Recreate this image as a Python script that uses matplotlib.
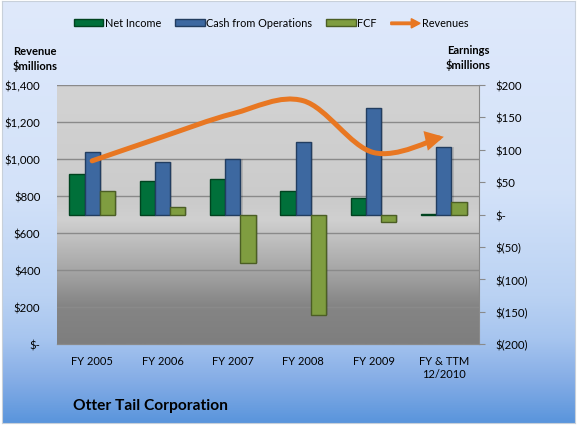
import matplotlib.pyplot as plt
import matplotlib.patches as mpatches
import numpy as np
from matplotlib.colors import LinearSegmentedColormap
from matplotlib.path import Path
from matplotlib.legend_handler import HandlerPatch

plt.rcParams['font.family'] = ['Lato', 'DejaVu Sans']

# data ($ millions)
years = ['FY 2005', 'FY 2006', 'FY 2007', 'FY 2008', 'FY 2009', 'FY & TTM\n12/2010']
net_income = [62, 52, 55, 36, 26, 0.5]
cash_ops = [96, 81, 85, 112, 164, 105]
fcf = [37, 12, -75, -155, -12, 19]
revenues = [990, 1120, 1245, 1315, 1035, 1120]

left_ticks = [0, 200, 400, 600, 800, 1000, 1200, 1400]
left_labels = ['$-', '$200', '$400', '$600', '$800', '$1,000', '$1,200', '$1,400']
right_ticks = [-200, -150, -100, -50, 0, 50, 100, 150, 200]
right_labels = ['$(200)', '$(150)', '$(100)', '$(50)', '$-', '$50', '$100', '$150', '$200']

fig = plt.figure(figsize=(5.77, 4.27), dpi=100)
fig.patch.set_facecolor('white')

# blue gradient background
bg = fig.add_axes([2/577, 3/427, 573/577, 422/427], zorder=-10)
bg_cmap = LinearSegmentedColormap.from_list('bg', [(0, '#dfe9fb'), (0.45, '#d3e2f9'), (0.7, '#bad2f3'),
                                                   (0.8, '#a7c5ef'), (0.9, '#85ade6'), (1, '#5a95dc')])
bg.imshow(np.linspace(0, 1, 256).reshape(-1, 1), cmap=bg_cmap, aspect='auto', extent=[0, 1, 0, 1])
bg.set_xticks([])
bg.set_yticks([])
for s in bg.spines.values():
    s.set_color('#c8d0da')
    s.set_linewidth(0.8)

ax = fig.add_axes([57/577, 1 - 345/427, 422/577, 259/427])
ax2 = ax.twinx()

x = np.arange(len(years))
ax.set_xlim(-0.5, len(years) - 0.5)
ax.set_ylim(0, 1400)
ax2.set_ylim(-200, 200)

# gray plot area gradient
pa_cmap = LinearSegmentedColormap.from_list('pa', [(0, '#d3d3d3'), (0.45, '#cbcbcb'), (0.52, '#d0d0d0'),
                                                   (0.62, '#bababa'), (0.72, '#a5a5a5'), (0.85, '#858585'),
                                                   (1, '#7e7e7e')])
ax.imshow(np.linspace(0, 1, 256).reshape(-1, 1), cmap=pa_cmap, aspect='auto',
          extent=[-0.5, len(years) - 0.5, 0, 1400], zorder=0)

ax.set_yticks(left_ticks)
ax.set_yticklabels(left_labels)
ax.grid(axis='y', color='#8a8a8a', linewidth=1)
ax.set_axisbelow(True)
ax.tick_params(axis='y', length=0, pad=12, labelsize=8.2)
ax.set_xticks(x)
ax.set_xticklabels(years, fontsize=8)
ax.tick_params(axis='x', length=0, pad=8)

ax2.set_yticks(right_ticks)
ax2.set_yticklabels(right_labels)
ax2.tick_params(axis='y', length=4, color='#8a8a8a', pad=8, labelsize=8.2)

for a in (ax, ax2):
    a.spines['top'].set_visible(False)
    a.spines['left'].set_visible(False)
    a.spines['right'].set_visible(False)
    a.spines['bottom'].set_color('#8a8a8a')
ax2.spines['right'].set_visible(True)
ax2.spines['right'].set_color('#8a8a8a')

w = 0.215
bar_specs = [(net_income, -w, '#00703a', '#00431f', 'Net Income'),
             (cash_ops, 0, '#3d68a0', '#223d60', 'Cash from Operations'),
             (fcf, w, '#7f9d40', '#4b5e24', 'FCF')]
for vals, off, col, edge, lab in bar_specs:
    # soft shadow
    ax2.bar(x + off + 0.03, vals, w, bottom=0, color='#000000', alpha=0.12, zorder=2,
            linewidth=0)
    ax2.bar(x + off, vals, w, color=col, edgecolor=edge, linewidth=1.0, zorder=3)
ax2.set_ylim(-200, 200)

# revenue line, smoothed with bezier segments, ending in an arrow
pts = np.column_stack([x, revenues]).astype(float)
verts = [pts[0]]
codes = [Path.MOVETO]
n = len(pts)
for i in range(n - 1):
    p0 = pts[i - 1] if i > 0 else pts[i]
    p1 = pts[i]
    p2 = pts[i + 1]
    p3 = pts[i + 2] if i + 2 < n else pts[i + 1]
    verts += [p1 + (p2 - p0) / 6, p2 - (p3 - p1) / 6, p2]
    codes += [Path.CURVE4] * 3
rev_path = Path(verts, codes)
arrow = mpatches.FancyArrowPatch(path=rev_path, transform=ax.transData,
                                 arrowstyle='-|>,head_length=0.65,head_width=0.35',
                                 mutation_scale=12, color='#e87722', linewidth=3.6,
                                 capstyle='round', joinstyle='miter', zorder=5)
ax2.add_patch(arrow)
ax2.set_xlim(-0.5, len(years) - 0.5)


def legend_arrow(legend, orig_handle, xdescent, ydescent, width, height, fontsize):
    return mpatches.FancyArrow(0, 0.5 * height, width, 0, length_includes_head=True,
                               width=0.4 * height, head_width=1.5 * height, head_length=0.3 * width)


handles = [mpatches.Patch(facecolor=c, edgecolor=e) for _, _, c, e, _ in bar_specs]
handles.append(mpatches.FancyArrow(0, 0, 1, 0, color='#e87722'))
labels = [s[4] for s in bar_specs] + ['Revenues']
fig.legend(handles, labels, loc='center', bbox_to_anchor=(0.47, 0.944), ncol=4, frameon=False,
           fontsize=7.8, handlelength=2.7, handleheight=0.5, handletextpad=0.15, columnspacing=1.3,
           handler_map={mpatches.FancyArrow: HandlerPatch(patch_func=legend_arrow)})

fig.text(13/577, 1 - 59/427, 'Revenue\n$millions', fontsize=8, fontweight='bold',
         ha='left', va='center', linespacing=1.35)
fig.text(468/577, 1 - 58/427, 'Earnings\n$millions', fontsize=8, fontweight='bold',
         ha='center', va='center', linespacing=1.35)
fig.text(73/577, 1 - 406/427, 'Otter Tail Corporation', fontsize=11.2, fontweight='bold',
         ha='left', va='center')

fig.savefig('out.png', dpi=100)
